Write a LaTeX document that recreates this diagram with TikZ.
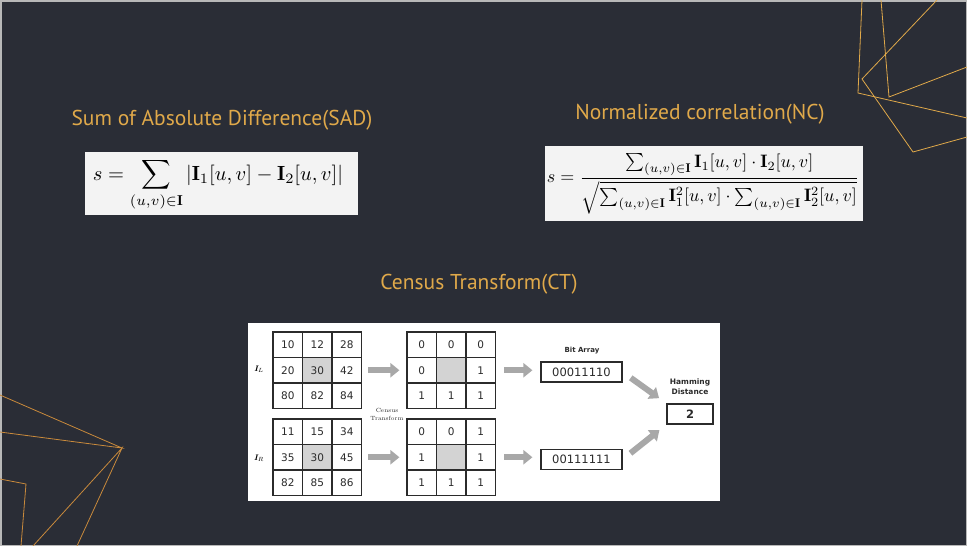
\documentclass[tikz,border=0pt]{standalone}
\usepackage{amsmath,amssymb}
\usepackage{fontspec}
\setsansfont{DejaVu Sans}
\newfontfamily\titlefont{PT Sans}
\usetikzlibrary{arrows.meta}
\definecolor{slidebg}{HTML}{2A2D36}
\definecolor{slideedge}{HTML}{B8B8B8}
\definecolor{gold}{HTML}{E0A94A}
\definecolor{deepgold}{HTML}{C98A3C}
\definecolor{boxgray}{HTML}{F3F3F3}
\definecolor{shade}{HTML}{D3D3D3}
\definecolor{arrowgray}{HTML}{A8A8A8}
\definecolor{ink}{HTML}{2B2B2B}
\begin{document}
\begin{tikzpicture}[x=1pt,y=-1pt,
    title/.style={text=gold,font=\titlefont\fontsize{21.5}{24}\selectfont,inner sep=0pt},
    formulabox/.style={fill=boxgray,inner sep=0pt},
    cell/.style={draw=ink,line width=1.2pt,minimum width=29.5pt,minimum height=25.5pt,inner sep=0pt,
        font=\sffamily\fontsize{10.5}{12}\selectfont,text=ink},
    centercell/.style={cell,fill=shade},
    bitbox/.style={draw=ink,line width=1.2pt,minimum width=81pt,minimum height=20pt,inner sep=0pt,
        font=\sffamily\fontsize{11.5}{12}\selectfont,text=ink},
    smalllabel/.style={font=\sffamily\fontsize{7}{9}\selectfont,text=ink,align=center,inner sep=0pt},
    blockarrow/.style={draw=arrowgray,line width=6pt,-{Triangle[length=9pt,width=14pt]}},
    deco/.style={gold,line width=0.8pt}]
                \useasboundingbox (0,0) rectangle (967,546) ;
                \fill[slidebg] (0,0) rectangle (967,546) ;
                \draw[slideedge,line width=1.5pt] (0.75,0.75) rectangle (966.25,545.25) ;
                % corner lines
                \draw[deco] (862,0) -- (858,93) -- (967,118) ;
                \draw[deco] (881,0) -- (889,97) -- (967,67) ;
                \draw[deco] (937,0) -- (862,79) -- (913,152) -- (967,137) ;
                \draw[deco,deepgold] (0,395) -- (122,448) -- (0,432) ;
                \draw[deco,deepgold] (33,546) -- (122,448) -- (77,546) ;
                \draw[deco,deepgold] (0,479) -- (26,484) -- (21,546) ;
                % titles
                \node[title] (sadtitle) at (222,120) {Sum of Absolute Difference(SAD)} ;
                \node[title] (nctitle) at (700,114) {Normalized correlation(NC)} ;
                \node[title] (cttitle) at (479,284) {Census Transform(CT)} ;
                % formulas
                \node[formulabox,minimum width=273pt,minimum height=63pt] (sadbox) at (221.5,183.5) {} ;
                \node[scale=2.05] (sad) at (218,185) {$\displaystyle s=\sum_{(u,v)\in\mathbf{I}}\left|\mathbf{I}_1[u,v]-\mathbf{I}_2[u,v]\right|$} ;
                \node[formulabox,minimum width=318pt,minimum height=75pt] (ncbox) at (704,183.5) {} ;
                \node[scale=1.8] (nc) at (703,184) {$\displaystyle s=\frac{\sum_{(u,v)\in\mathbf{I}}\mathbf{I}_1[u,v]\cdot\mathbf{I}_2[u,v]}{\sqrt{\sum_{(u,v)\in\mathbf{I}}\mathbf{I}_1^2[u,v]\cdot\sum_{(u,v)\in\mathbf{I}}\mathbf{I}_2^2[u,v]}}$} ;
                % census transform
                \node[fill=white,minimum width=472pt,minimum height=178pt,inner sep=0pt] (ctbox) at (484,412) {} ;
                \node[font=\fontsize{8}{9}\selectfont] (il) at (259,369) {$\boldsymbol{I}_{\!L}$} ;
                \node[font=\fontsize{8}{9}\selectfont] (ir) at (259,458) {$\boldsymbol{I}_{\!R}$} ;
                \node[cell] (l11) at (287.75,344.75) {10} ;
                \node[cell] (l12) at (317.25,344.75) {12} ;
                \node[cell] (l13) at (346.75,344.75) {28} ;
                \node[cell] (l21) at (287.75,370.25) {20} ;
                \node[centercell] (l22) at (317.25,370.25) {30} ;
                \node[cell] (l23) at (346.75,370.25) {42} ;
                \node[cell] (l31) at (287.75,395.75) {80} ;
                \node[cell] (l32) at (317.25,395.75) {82} ;
                \node[cell] (l33) at (346.75,395.75) {84} ;
                \node[cell] (r11) at (287.75,431.75) {11} ;
                \node[cell] (r12) at (317.25,431.75) {15} ;
                \node[cell] (r13) at (346.75,431.75) {34} ;
                \node[cell] (r21) at (287.75,457.25) {35} ;
                \node[centercell] (r22) at (317.25,457.25) {30} ;
                \node[cell] (r23) at (346.75,457.25) {45} ;
                \node[cell] (r31) at (287.75,482.75) {82} ;
                \node[cell] (r32) at (317.25,482.75) {85} ;
                \node[cell] (r33) at (346.75,482.75) {86} ;
                \node[cell] (cl11) at (421.75,344.75) {0} ;
                \node[cell] (cl12) at (451.25,344.75) {0} ;
                \node[cell] (cl13) at (480.75,344.75) {0} ;
                \node[cell] (cl21) at (421.75,370.25) {0} ;
                \node[centercell] (cl22) at (451.25,370.25) {} ;
                \node[cell] (cl23) at (480.75,370.25) {1} ;
                \node[cell] (cl31) at (421.75,395.75) {1} ;
                \node[cell] (cl32) at (451.25,395.75) {1} ;
                \node[cell] (cl33) at (480.75,395.75) {1} ;
                \node[cell] (cr11) at (421.75,431.75) {0} ;
                \node[cell] (cr12) at (451.25,431.75) {0} ;
                \node[cell] (cr13) at (480.75,431.75) {1} ;
                \node[cell] (cr21) at (421.75,457.25) {1} ;
                \node[centercell] (cr22) at (451.25,457.25) {} ;
                \node[cell] (cr23) at (480.75,457.25) {1} ;
                \node[cell] (cr31) at (421.75,482.75) {1} ;
                \node[cell] (cr32) at (451.25,482.75) {1} ;
                \node[cell] (cr33) at (480.75,482.75) {1} ;
                \node[align=center,font=\rmfamily\fontsize{6}{8}\selectfont,text=ink] (ctlabel) at (387,414) {Census\\Transform} ;
                \node[smalllabel,font=\sffamily\bfseries\fontsize{7}{9}\selectfont] (bitlabel) at (582,351) {Bit Array} ;
                \node[bitbox] (bitl) at (581.5,372) {00011110} ;
                \node[bitbox] (bitr) at (581.5,459.5) {00111111} ;
                \node[smalllabel,font=\sffamily\bfseries\fontsize{7.5}{10}\selectfont] (hamlabel) at (690,387) {Hamming\\Distance} ;
                \node[bitbox,minimum width=46pt,font=\sffamily\bfseries\fontsize{11.5}{12}\selectfont] (ham) at (690,414) {2} ;
                \draw[blockarrow,shorten <=6pt,shorten >=7pt] (l23.east) -- (cl21.west) ;
                \draw[blockarrow,shorten <=6pt,shorten >=7pt] (r23.east) -- (cr21.west) ;
                \draw[blockarrow,shorten <=8pt,shorten >=8pt] (cl23.east) -- (cl23.east -| bitl.west) ;
                \draw[blockarrow,shorten <=8pt,shorten >=8pt] (cr23.east) -- (cr23.east -| bitr.west) ;
                \draw[blockarrow,shorten <=10pt,shorten >=9pt] (bitl.east) -- (ham.north west) ;
                \draw[blockarrow,shorten <=10pt,shorten >=9pt] (bitr.east) -- (ham.south west) ;
            \end{tikzpicture}
\end{document}
